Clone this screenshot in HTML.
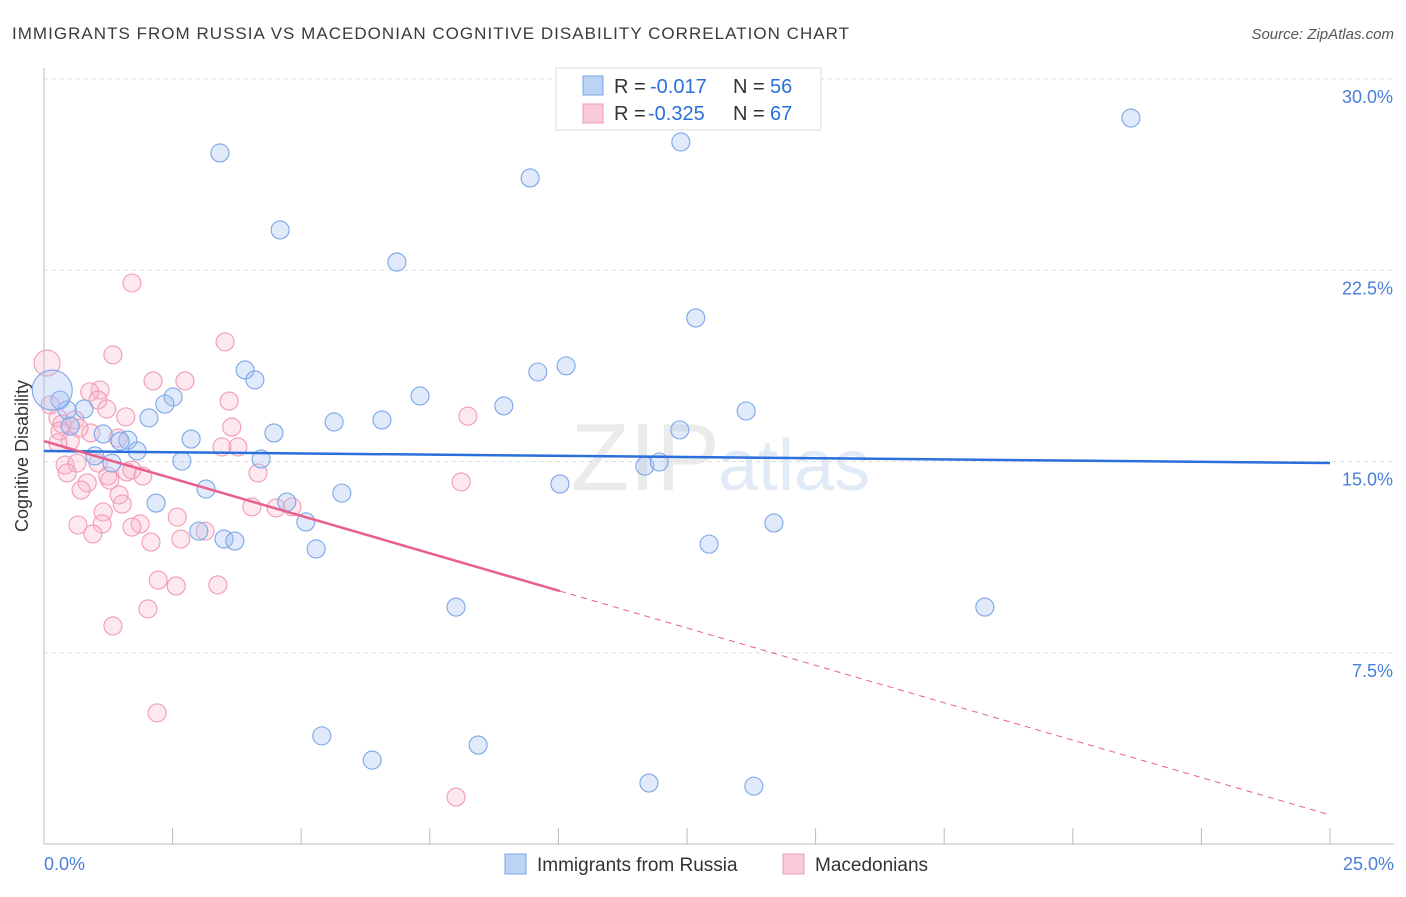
<!DOCTYPE html>
<html><head><meta charset="utf-8"><style>
body{margin:0;background:#fff;font-family:"Liberation Sans",sans-serif}
svg text{font-family:"Liberation Sans",sans-serif}
</style></head><body>
<svg id="chart" width="1406" height="892" viewBox="0 0 1406 892">
<text x="12" y="39" font-size="17" fill="#3a3a3a" textLength="837" lengthAdjust="spacing">IMMIGRANTS FROM RUSSIA VS MACEDONIAN COGNITIVE DISABILITY CORRELATION CHART</text>
<text x="1394" y="39" font-size="15" fill="#555" font-style="italic" text-anchor="end">Source: ZipAtlas.com</text>
<text x="720" y="490" font-size="96" fill="#ebebeb" font-family="Liberation Serif" text-anchor="end">ZIP</text>
<text x="718" y="490" font-size="72" fill="#e1eaf7">atlas</text>
<g id="grid"></g>
<line x1="44" y1="68" x2="44" y2="844" stroke="#bbb"/>
<line x1="44" y1="844" x2="1394" y2="844" stroke="#bbb"/>
<g id="xticks"></g>
<text x="28" y="456" font-size="18" fill="#333" text-anchor="middle" transform="rotate(-90 28 456)">Cognitive Disability</text>
<text x="44" y="870" font-size="18" fill="#4a7fd8">0.0%</text>
<text x="1394" y="870" font-size="18" fill="#4a7fd8" text-anchor="end">25.0%</text>
<g id="pinkpts"></g>
<g id="bluepts"></g>
<g id="trends"></g>
<g>
<rect x="556" y="68" width="265" height="62" fill="#fff" stroke="#ddd"/>
<rect x="583" y="76" width="20" height="19" fill="#bcd3f5" stroke="#7aa6e6"/>
<rect x="583" y="104" width="20" height="19" fill="#f9cbd8" stroke="#f09ab4"/>
<text x="614" y="93" font-size="20" fill="#333">R =</text>
<text x="650" y="93" font-size="20" fill="#2a6fdb">-0.017</text>
<text x="733" y="93" font-size="20" fill="#333">N =</text>
<text x="770" y="93" font-size="20" fill="#2a6fdb">56</text>
<text x="614" y="120" font-size="20" fill="#333">R =</text>
<text x="648" y="120" font-size="20" fill="#2a6fdb">-0.325</text>
<text x="733" y="120" font-size="20" fill="#333">N =</text>
<text x="770" y="120" font-size="20" fill="#2a6fdb">67</text>
</g>
<g>
<rect x="505" y="854" width="21" height="20" fill="#bcd3f5" stroke="#7aa6e6"/>
<text x="537" y="871" font-size="19" fill="#333">Immigrants from Russia</text>
<rect x="783" y="854" width="21" height="20" fill="#f9cbd8" stroke="#f09ab4"/>
<text x="815" y="871" font-size="19" fill="#333">Macedonians</text>
</g>
</svg>
<script>
const yTicks=[7.5,15,22.5,30];
const yTickLabels=["7.5%","15.0%","22.5%","30.0%"];
const xTickCount=10;
const blueX=[3.42,4.59,9.45,12.38,21.13,6.86,12.67,3.91,4.10,2.51,2.35,10.15,9.60,7.31,8.94,13.65,6.57,5.64,12.36,2.04,0.78,0.31,0.45,1.15,1.63,1.48,2.86,1.81,4.47,2.68,4.22,1.32,0.99,11.68,11.96,10.03,3.15,5.79,4.72,2.18,5.09,14.19,3.01,3.50,3.71,5.29,12.93,8.01,18.29,5.40,8.44,6.38,11.76,13.80,0.51,0.16];
const blueY=[27.10,24.08,26.12,27.53,28.47,22.82,20.63,18.59,18.20,17.53,17.25,18.75,18.51,17.57,17.18,16.98,16.63,16.55,16.24,16.71,17.06,17.41,17.02,16.08,15.84,15.80,15.88,15.41,16.12,15.02,15.10,14.94,15.22,14.82,14.98,14.12,13.92,13.76,13.41,13.37,12.63,12.59,12.27,11.96,11.88,11.57,11.76,9.29,9.29,4.24,3.88,3.29,2.39,2.27,16.39,17.80];
const pinkX=[1.71,1.34,3.52,2.12,2.74,0.06,1.09,0.89,1.05,3.60,1.22,1.59,0.27,0.12,8.24,0.60,0.35,3.65,0.31,1.44,0.91,0.68,0.51,3.77,3.46,0.27,0.41,0.64,1.05,4.16,0.45,1.24,1.61,1.92,1.71,1.28,0.84,0.72,8.11,1.46,4.04,4.51,4.82,1.52,1.15,2.59,1.87,0.66,1.13,1.71,3.13,0.95,2.08,2.66,2.22,2.57,3.38,2.02,1.34,2.20,8.01];
const pinkY=[22.00,19.18,19.69,18.16,18.16,18.86,17.80,17.73,17.41,17.37,17.06,16.75,16.71,17.22,16.78,16.63,16.47,16.35,16.20,15.92,16.12,16.31,15.80,15.57,15.57,15.73,14.86,14.94,14.94,14.55,14.55,14.43,14.59,14.43,14.67,14.27,14.16,13.88,14.20,13.69,13.22,13.18,13.22,13.33,13.02,12.82,12.55,12.51,12.55,12.43,12.27,12.16,11.84,11.96,10.35,10.12,10.16,9.22,8.55,5.14,1.84];
const blueTrend=[15.41,14.94];
const pinkTrend=[15.80,1.14];
const pinkSolidEnd=10.03;
const NS="http://www.w3.org/2000/svg";
const sx=v=>44+v*(1286/25);
const sy=v=>844-v*25.5;
function mk(tag,attrs,parent){const e=document.createElementNS(NS,tag);for(const k in attrs)e.setAttribute(k,attrs[k]);parent.appendChild(e);return e;}
const grid=document.getElementById('grid');
yTicks.forEach((t,i)=>{
 const l=mk('line',{x1:44,x2:1394,y1:sy(t),y2:sy(t),stroke:'#ddd','stroke-dasharray':'4,4'},grid);
 
 
 const tx=mk('text',{x:1393,y:sy(t)+24,'font-size':18,fill:'#4a7fd8','text-anchor':'end'},grid);
 tx.textContent=yTickLabels[i];
 
 
});
const xt=document.getElementById('xticks');
for(let i=1;i<=xTickCount;i++){
 const x=sx(25*i/xTickCount);
 const l=mk('line',{x1:x,x2:x,y1:828,y2:844,stroke:'#bbb'},xt);
 
 
}
function pts(xs,ys,g,fill,stroke,name){
 xs.forEach((x,i)=>{
  const r=(i===xs.length-1&&name==='blue-point')?20:((name==='pink-point'&&i===5)?13:9);
  const c=mk('circle',{cx:sx(x),cy:sy(ys[i]),r:r,fill:fill,stroke:stroke,'stroke-width':1.1},g);
  
  
 });
}
pts(pinkX,pinkY,document.getElementById('pinkpts'),'rgba(248,180,202,0.3)','#f29ab6','pink-point');
pts(blueX,blueY,document.getElementById('bluepts'),'rgba(165,196,244,0.35)','#7ba6e8','blue-point');
const tr=document.getElementById('trends');
const bl=mk('line',{x1:sx(0),y1:sy(blueTrend[0]),x2:sx(25),y2:sy(blueTrend[1]),stroke:'#2a6fdb','stroke-width':2.5},tr);


const py=x=>pinkTrend[0]+(pinkTrend[1]-pinkTrend[0])*x/25;
const pl=mk('line',{x1:sx(0),y1:sy(py(0)),x2:sx(pinkSolidEnd),y2:sy(py(pinkSolidEnd)),stroke:'#e8608a','stroke-width':2.5},tr);


const pd=mk('line',{x1:sx(pinkSolidEnd),y1:sy(py(pinkSolidEnd)),x2:sx(25),y2:sy(py(25)),stroke:'#e8608a','stroke-width':1,'stroke-dasharray':'6,5'},tr);


</script>
</body></html>
